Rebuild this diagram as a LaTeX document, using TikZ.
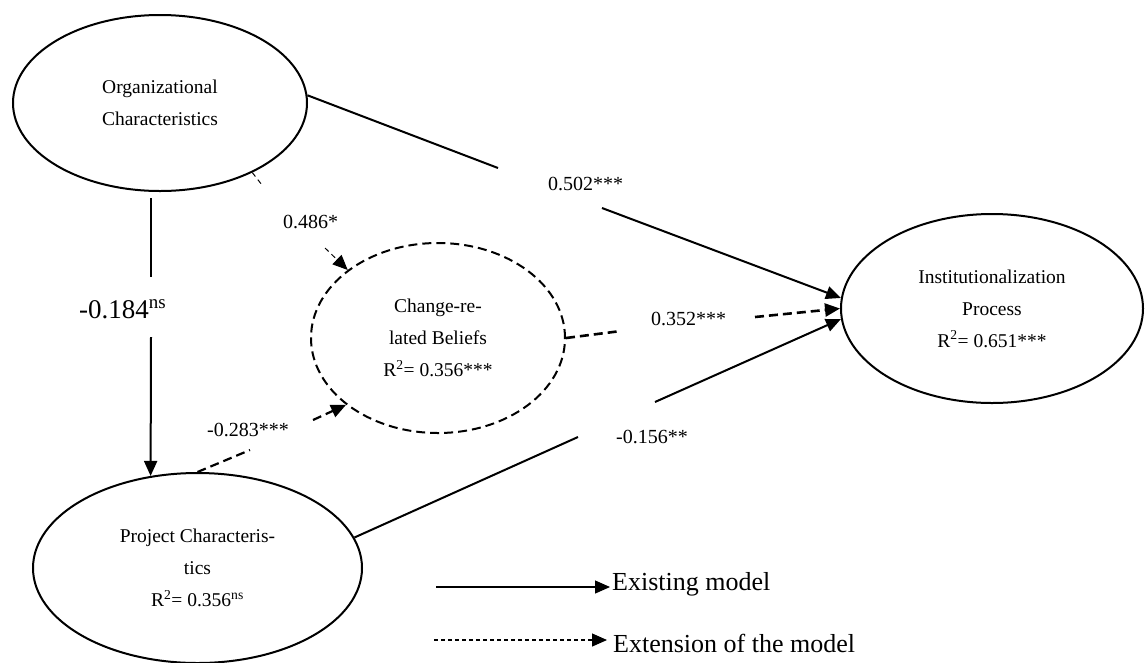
\documentclass[tikz,border=0pt]{standalone}
\usepackage{fontspec}
\setmainfont{Liberation Serif}
\usetikzlibrary{arrows.meta,shapes.geometric,calc}
\begin{document}
\begin{tikzpicture}[x=1pt,y=-1pt,
  ell/.style={ellipse, draw, line width=2pt, inner sep=0pt, align=center, font=\fontsize{19.5}{32}\selectfont},
  solidedge/.style={line width=2pt},
  tip/.style={-{Triangle[length=15pt,width=13pt]}},
  dashedge/.style={line width=2.2pt, dash pattern=on 9pt off 5pt},
  thindash/.style={line width=1pt, dash pattern=on 5pt off 4pt},
  lbl/.style={anchor=base west, inner sep=0pt, font=\fontsize{20}{24}\selectfont},
  legendtext/.style={anchor=base west, inner sep=0pt, font=\fontsize{26}{30}\selectfont}]
\useasboundingbox[fill=white] (0,0) rectangle (1145,662);

% constructs
\node[ell, minimum width=294pt, minimum height=176pt] (org) at (160,103) {Organizational\\Characteristics};
\node[ell, dash pattern=on 9pt off 5pt, minimum width=254pt, minimum height=190pt] (chg) at (438,338) {Change-re-\\lated Beliefs\\R\textsuperscript{2}= 0.356***};
\node[ell, minimum width=302pt, minimum height=189pt] (inst) at (992,308.5) {Institutionalization\\Process\\R\textsuperscript{2}= 0.651***};
\node[ell, minimum width=329pt, minimum height=190pt] (proj) at (197.5,568) {Project Characteris-\\tics\\R\textsuperscript{2}= 0.356\textsuperscript{ns}};

% Org -> Inst
\coordinate (g1a) at (498,168); \coordinate (g1b) at (602,208);
\draw[solidedge] (org.3) -- (g1a);
\draw[solidedge,tip] (g1b) -- (inst.176);

% Org -> Proj
\coordinate (g2a) at (151,277); \coordinate (g2b) at (151,337);
\draw[solidedge] ([shift={(-9,6)}]org.south) -- (g2a);
\draw[solidedge,tip] (g2b) -- (proj.117);

% Org -> Change
\coordinate (g3a) at (262,185); \coordinate (g3b) at (325,248);
\draw[thindash] (org.323) -- (g3a);
\draw[thindash,tip] (g3b) -- (chg.143);

% Change -> Inst
\coordinate (g4a) at (621,331); \coordinate (g4b) at (755,317);
\draw[dashedge, line width=2.6pt] (chg.east) -- (g4a);
\draw[dashedge, line width=2.6pt, tip] (g4b) -- (inst.west);

% Proj -> Inst
\coordinate (g5a) at (578,437); \coordinate (g5b) at (655,402);
\draw[solidedge] (proj.11) -- (g5a);
\draw[solidedge,tip] (g5b) -- (inst.184);

% Proj -> Change
\coordinate (g6a) at (250,450); \coordinate (g6b) at (313,420);
\draw[dashedge] (proj.north) -- (g6a);
\draw[dashedge,tip] (g6b) -- (chg.216);

% path labels
\node[lbl] (l502) at (548,190) {0.502***};
\node[lbl] (l486) at (283,228) {0.486*};
\node[lbl] (l352) at (651,325) {0.352***};
\node[lbl] (l156) at (616,443) {-0.156**};
\node[lbl] (l283) at (207,436) {-0.283***};
\node[lbl, font=\fontsize{27}{30}\selectfont] (l184) at (79,318) {-0.184\textsuperscript{ns}};

% legend
\coordinate (la1) at (436,587); \coordinate (la2) at (610,587);
\draw[line width=1.2pt, tip] (la1) -- (la2);
\node[legendtext] (lt1) at (612,590) {Existing model};
\coordinate (lb1) at (434,640); \coordinate (lb2) at (607,640);
\draw[line width=1.2pt, dash pattern=on 4pt off 3pt, tip] (lb1) -- (lb2);
\node[legendtext] (lt2) at (613,652) {Extension of the model};
\end{tikzpicture}
\end{document}
